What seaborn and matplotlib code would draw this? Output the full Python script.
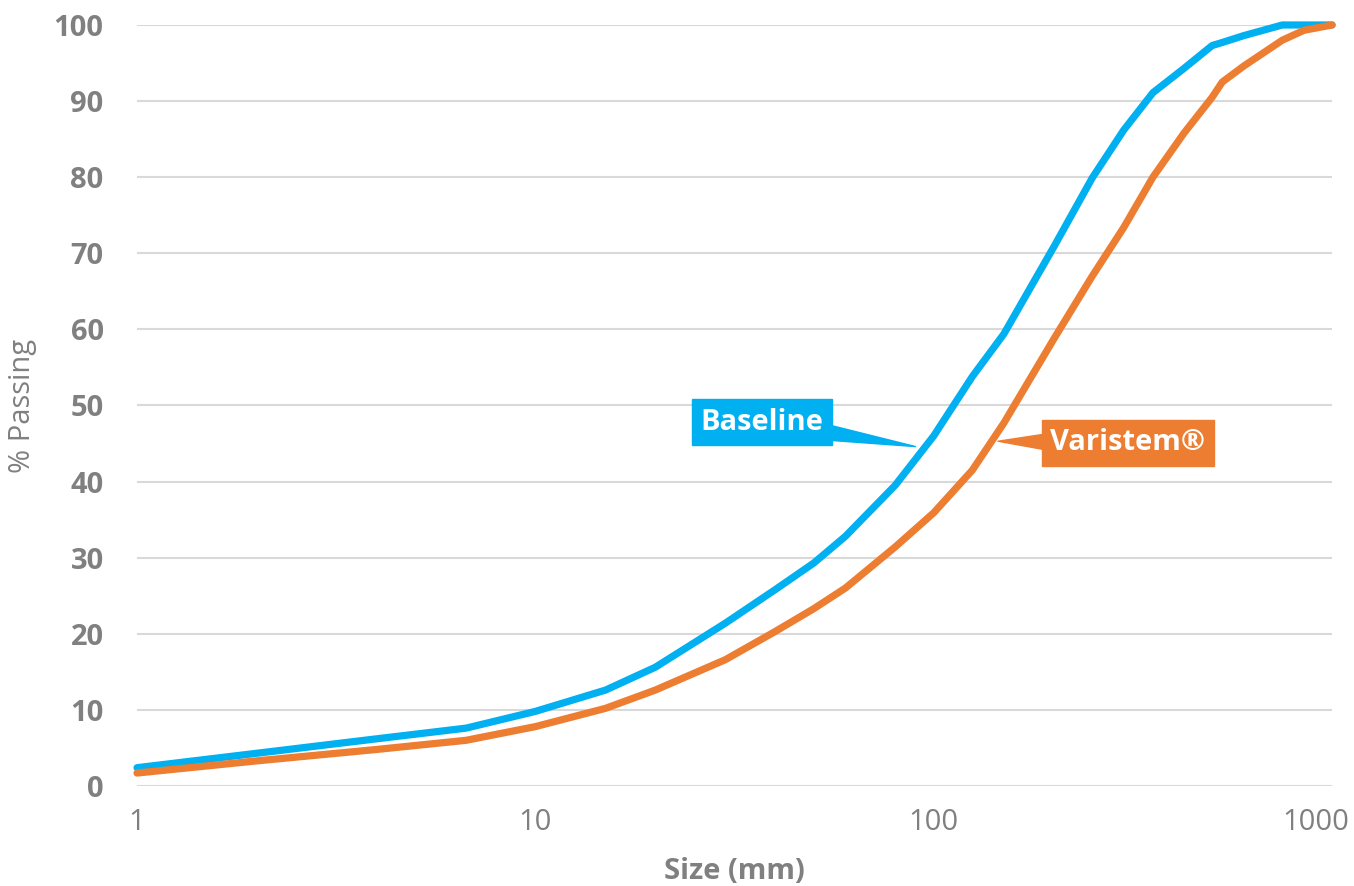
import numpy as np
import pandas as pd
import seaborn as sns
import matplotlib.pyplot as plt
from matplotlib.ticker import FixedLocator, NullLocator, FixedFormatter
from matplotlib.transforms import ScaledTranslation

# particle size (mm) and cumulative % passing
sizes = [1, 2, 4, 6.7, 10, 15, 20, 30, 40, 50, 60, 80, 100, 125, 150,
         200, 250, 300, 355, 425, 500, 530, 600, 750, 850, 1000]
baseline = [2.4, 4.3, 6.2, 7.6, 9.8, 12.6, 15.6, 21.4, 25.8, 29.3, 32.8, 39.5,
            46.0, 53.8, 59.4, 70.8, 79.9, 86.2, 91.1, 94.3, 97.3, 97.7, 98.6, 100, 100, 100]
varistem = [1.7, 3.3, 4.8, 6.0, 7.8, 10.2, 12.6, 16.6, 20.3, 23.3, 26.0, 31.4,
            35.9, 41.5, 47.7, 58.7, 67.0, 73.4, 80.0, 85.8, 90.5, 92.5, 94.6, 98.0, 99.3, 100]

x_ticks = [1, 10, 100, 1000]
x_ticklabels = ["1", "10", "100", "1000"]
y_ticks = list(range(0, 101, 10))

BLUE = "#00B0F0"
ORANGE = "#ED7D31"
GREY = "#808080"

sns.set_theme(style="white")
plt.rcParams['font.family'] = ['Open Sans', 'DejaVu Sans']

df = pd.DataFrame({"size": sizes, "Baseline": baseline, "Varistem": varistem})

fig = plt.figure(figsize=(13.54, 8.86), dpi=100)
ax = fig.add_axes([0.1012, 0.1129, 0.8826, 0.8589])

sns.lineplot(data=df, x="size", y="Baseline", ax=ax, color=BLUE, lw=5.2,
             clip_on=False, zorder=3)
sns.lineplot(data=df, x="size", y="Varistem", ax=ax, color=ORANGE, lw=5.2,
             clip_on=False, zorder=4)

ax.set_xscale("log")
ax.set_xlim(1, 1000)
ax.set_ylim(0, 100)
ax.xaxis.set_major_locator(FixedLocator(x_ticks))
ax.xaxis.set_major_formatter(FixedFormatter(x_ticklabels))
ax.xaxis.set_minor_locator(NullLocator())
ax.set_yticks(y_ticks)

ax.grid(axis="y", color="#D9D9D9", lw=1.5)
ax.grid(axis="x", visible=False)
ax.set_axisbelow(True)
for s in ax.spines.values():
    s.set_visible(False)

ax.tick_params(axis="x", length=0, pad=16, labelsize=21, labelcolor=GREY)
ax.tick_params(axis="y", length=0, pad=24, labelsize=21, labelcolor=GREY)
for lbl in ax.get_yticklabels():
    lbl.set_fontweight("bold")

# the last x label sits a bit left so it stays inside the figure
fig.canvas.draw()
last = ax.get_xticklabels()[-1]
last.set_transform(last.get_transform() + ScaledTranslation(-16 / 100, 0, fig.dpi_scale_trans))

ax.set_xlabel("Size (mm)", fontsize=21, fontweight="bold", color=GREY, labelpad=14)
ax.set_ylabel("% Passing", fontsize=21, color=GREY, labelpad=12)

# callout labels
ax.annotate("Baseline", xy=(90, 44.6), xytext=(762, 464), textcoords="figure pixels",
            ha="center", va="center", fontsize=21, fontweight="bold", color="white",
            bbox=dict(boxstyle="square,pad=0.28", fc=BLUE, ec=BLUE),
            arrowprops=dict(arrowstyle="wedge,tail_width=0.5", fc=BLUE, ec=BLUE,
                            shrinkA=0, shrinkB=0), zorder=5)
ax.annotate("Varistem®", xy=(145, 45.3), xytext=(1128, 443), textcoords="figure pixels",
            ha="center", va="center", fontsize=21, fontweight="bold", color="white",
            bbox=dict(boxstyle="square,pad=0.28", fc=ORANGE, ec=ORANGE),
            arrowprops=dict(arrowstyle="wedge,tail_width=0.5", fc=ORANGE, ec=ORANGE,
                            shrinkA=0, shrinkB=0), zorder=5)

fig.savefig("out.png", dpi=100)
